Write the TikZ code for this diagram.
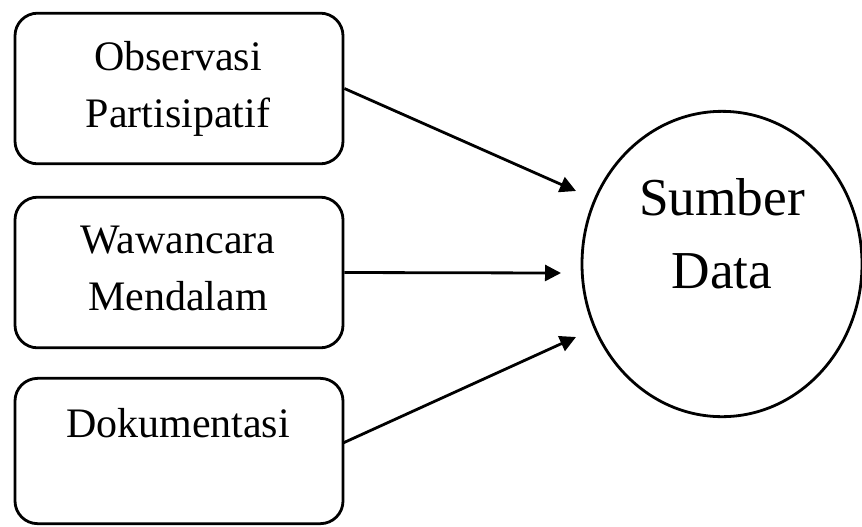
\documentclass[tikz,border=0pt]{standalone}
\usepackage{fontspec}
\setmainfont{Liberation Serif}
\usetikzlibrary{arrows.meta,shapes.geometric}
\tikzset{
  srcbox/.style={draw=black, line width=2.1pt, rounded corners=17pt, minimum width=246pt, inner sep=0pt},
  boxtext/.style={font=\fontsize{31.5pt}{42.75pt}\selectfont, align=center, anchor=base, inner sep=0pt},
  bigtext/.style={font=\fontsize{40pt}{55pt}\selectfont, align=center, anchor=base, inner sep=0pt},
  target/.style={draw=black, line width=2.1pt, ellipse, minimum width=210pt, minimum height=229pt, inner sep=0pt},
  conn/.style={draw=black, line width=2.1pt, -{Triangle[length=12pt,width=12pt]}}
}
\begin{document}
\begin{tikzpicture}[x=0.75pt,y=-0.75pt]
\useasboundingbox (0,0) rectangle (862,526);
% boxes
\node[srcbox, minimum height=113pt] (b1) at (179,88.5) {};
\node[srcbox, minimum height=113pt] (b2) at (179,272.5) {};
\node[srcbox, minimum height=109pt] (b3) at (179,451) {};
% texts
\node[boxtext] (t1a) at (178,70) {Observasi};
\node[boxtext] (t1b) at (178,127) {Partisipatif};
\node[boxtext] (t2a) at (178,253) {Wawancara};
\node[boxtext] (t2b) at (178,310) {Mendalam};
\node[boxtext] (t3) at (178,437) {Dokumentasi};
% circle
\node[target] (sd) at (722,264) {};
\node[bigtext] (sda) at (722,215) {Sumber};
\node[bigtext] (sdb) at (722,288) {Data};
% arrow ends
\coordinate (e1) at (576,191);
\coordinate (e2) at (561,273);
\coordinate (e3) at (576,337);
\coordinate (s3) at (343,443);
\draw[conn] (b1.east) -- (e1);
\draw[conn] (b2.east) -- (e2);
\draw[conn] (s3) -- (e3);
\end{tikzpicture}
\end{document}
